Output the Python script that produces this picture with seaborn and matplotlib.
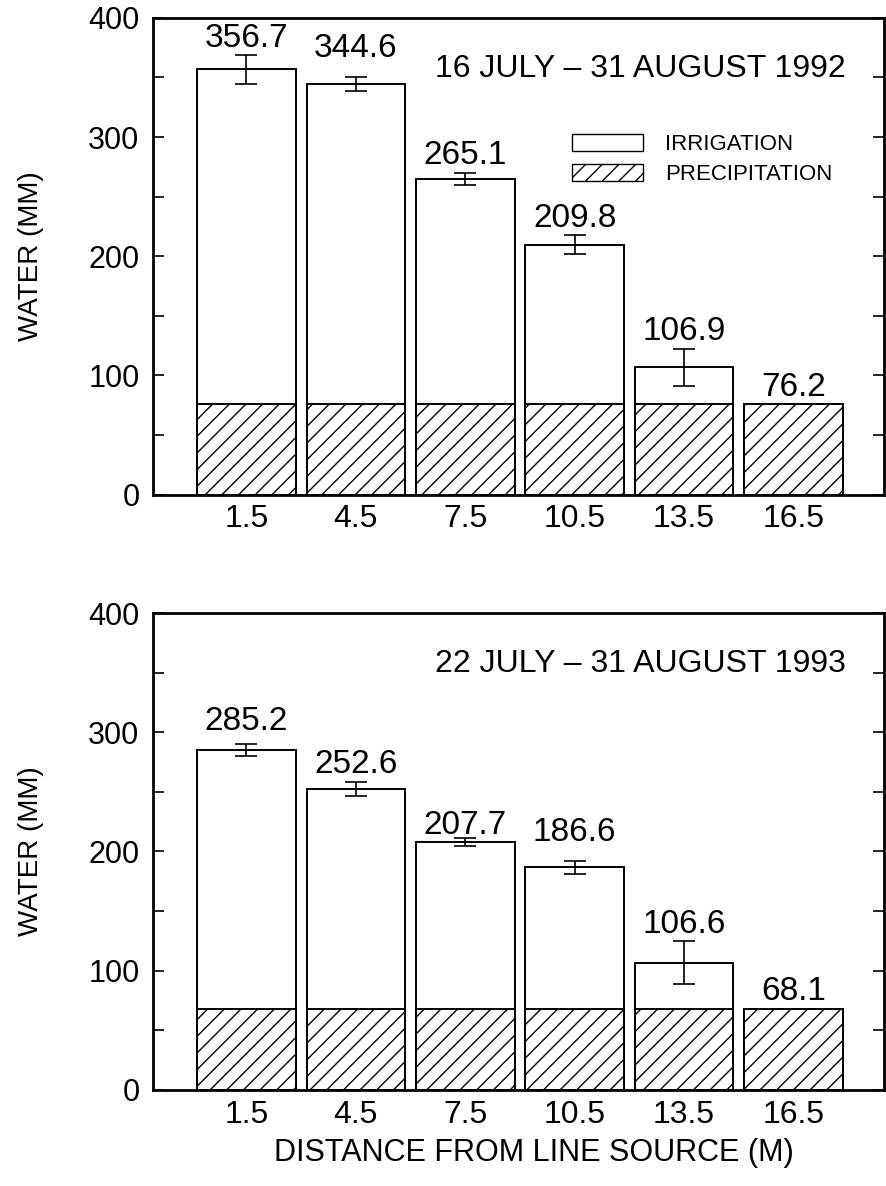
import numpy as np
import pandas as pd
import seaborn as sns
import matplotlib.pyplot as plt
from matplotlib.patches import Patch

# distancias da fonte de aspersao (m)
distancias = ["1.5", "4.5", "7.5", "10.5", "13.5", "16.5"]

# 1992: total de agua (irrigacao + precipitacao) e desvio
total_1992 = [356.7, 344.6, 265.1, 209.8, 106.9, 76.2]
erro_1992 = [12.0, 6.0, 5.0, 8.0, 15.5, 0.0]
precip_1992 = 76.2
titulo_1992 = "16 JULY \u2013 31 AUGUST 1992"

# 1993
total_1993 = [285.2, 252.6, 207.7, 186.6, 106.6, 68.1]
erro_1993 = [5.0, 6.0, 3.5, 5.5, 18.0, 0.0]
precip_1993 = 68.1
titulo_1993 = "22 JULY \u2013 31 AUGUST 1993"

sns.set_theme(style="ticks")
plt.rcParams['font.family'] = ['Liberation Sans', 'DejaVu Sans']
plt.rcParams['text.color'] = 'black'
plt.rcParams['axes.labelcolor'] = 'black'
plt.rcParams['xtick.color'] = 'black'
plt.rcParams['ytick.color'] = 'black'
plt.rcParams['hatch.linewidth'] = 1.0
plt.rcParams['hatch.color'] = 'black'


def painel(ax, totais, erros, precip, titulo, legenda=False, xlabel=None, extra=None):
    df = pd.DataFrame({'dist': distancias, 'total': totais,
                       'precip': [precip] * len(distancias)})

    sns.barplot(data=df, x='dist', y='total', color='white', edgecolor='black',
                linewidth=1.4, width=0.9, saturation=1, errorbar=None, ax=ax)
    sns.barplot(data=df, x='dist', y='precip', color='white', edgecolor='black',
                linewidth=1.4, width=0.9, saturation=1, errorbar=None, hatch='//', ax=ax)

    pos = np.arange(len(distancias))
    tem_erro = np.array(erros) > 0
    ax.errorbar(pos[tem_erro], np.array(totais)[tem_erro], yerr=np.array(erros)[tem_erro],
                fmt='none', ecolor='black', elinewidth=1.2, capsize=8, capthick=1.2)

    for i, (t, e) in enumerate(zip(totais, erros)):
        pad = 6
        if extra and i in extra:
            pad += extra[i]
        ax.annotate(f"{t:.1f}", (pos[i], t + e), xytext=(0, pad), textcoords='offset points',
                    ha='center', va='baseline', fontsize=24)

    ax.set_ylim(0, 400)
    ax.set_xlim(-0.85, 5.83)
    ax.set_yticks([0, 100, 200, 300, 400])
    ax.set_yticks([50, 150, 250, 350], minor=True)
    ax.tick_params(axis='y', which='both', direction='in', right=True, length=8,
                   width=1.2, labelsize=22, pad=10)
    ax.tick_params(axis='x', length=0, labelsize=23, pad=7)
    for s in ax.spines.values():
        s.set_visible(True)
        s.set_linewidth(2)
        s.set_color('black')
    ax.set_ylabel("WATER (MM)", fontsize=20, labelpad=32)
    if xlabel:
        ax.set_xlabel(xlabel, fontsize=22, labelpad=6, x=0.52)
    else:
        ax.set_xlabel("")

    ax.text(0.666, 0.893, titulo, transform=ax.transAxes, ha='center', va='center', fontsize=23)

    if legenda:
        handles = [Patch(facecolor='white', edgecolor='black', label='IRRIGATION'),
                   Patch(facecolor='white', edgecolor='black', hatch='//', label='PRECIPITATION')]
        ax.legend(handles=handles, loc='upper left', bbox_to_anchor=(0.56, 0.775),
                  frameon=False, fontsize=16, handlelength=3.2, handleheight=0.8,
                  labelspacing=0.4, handletextpad=1.0, borderaxespad=0)


fig, (ax1, ax2) = plt.subplots(2, 1, figsize=(8.87, 11.86), dpi=100)
fig.subplots_adjust(left=0.173, right=0.997, top=0.985, bottom=0.081, hspace=0.248)

painel(ax1, total_1992, erro_1992, precip_1992, titulo_1992, legenda=True, extra={1: 8})
painel(ax2, total_1993, erro_1993, precip_1993, titulo_1993,
       xlabel="DISTANCE FROM LINE SOURCE (M)", extra={0: 4, 2: -3, 3: 8})

fig.savefig("out.png", dpi=100)
